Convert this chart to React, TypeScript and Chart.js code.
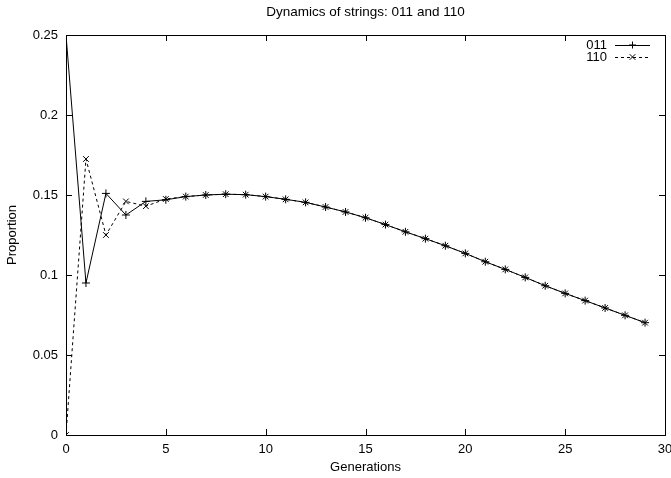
import React, { useEffect, useRef } from "react";
import { Chart, registerables } from "chart.js";

Chart.register(...registerables);

const generations = [0,1,2,3,4,5,6,7,8,9,10,11,12,13,14,15,16,17,18,19,20,21,22,23,24,25,26,27,28,29];
const s011 = [0.25,0.095,0.151,0.1375,0.146,0.147,0.149,0.15,0.1505,0.1502,0.149,0.1473,0.1454,0.1425,0.1394,0.1358,0.1315,0.127,0.1227,0.1183,0.1135,0.1083,0.1035,0.0985,0.0933,0.0885,0.084,0.0794,0.0748,0.0702];
const s110 = [0,0.1725,0.125,0.146,0.143,0.1475,0.149,0.15,0.1505,0.1502,0.149,0.1473,0.1454,0.1425,0.1394,0.1358,0.1315,0.127,0.1227,0.1183,0.1135,0.1083,0.1035,0.0985,0.0933,0.0885,0.084,0.0794,0.0748,0.0702];
const xTicks = [0,5,10,15,20,25,30];
const yTicks = [0,0.05,0.1,0.15,0.2,0.25];
const seriesNames = ["011","110"];
const titleText = "Dynamics of strings: 011 and 110";
const xLabel = "Generations";
const yLabel = "Proportion";

const FONT = "'Liberation Sans', Arial, Helvetica, sans-serif";

const gnuPlugin = {
  id: "gnu",
  afterDraw(chart: any) {
    const { ctx, chartArea: a, scales } = chart;
    const xs = scales.x, ys = scales.y;
    ctx.save();
    ctx.strokeStyle = "#000";
    ctx.lineWidth = 1;
    ctx.setLineDash([]);
    ctx.strokeRect(Math.round(a.left) + 0.5, Math.round(a.top) + 0.5, Math.round(a.right - a.left), Math.round(a.bottom - a.top));
    const tl = 6;
    ctx.beginPath();
    xTicks.forEach((v) => {
      const px = Math.round(xs.getPixelForValue(v)) + 0.5;
      ctx.moveTo(px, a.bottom); ctx.lineTo(px, a.bottom - tl);
      ctx.moveTo(px, a.top); ctx.lineTo(px, a.top + tl);
    });
    yTicks.forEach((v) => {
      const py = Math.round(ys.getPixelForValue(v)) + 0.5;
      ctx.moveTo(a.left, py); ctx.lineTo(a.left + tl, py);
      ctx.moveTo(a.right, py); ctx.lineTo(a.right - tl, py);
    });
    ctx.stroke();
    ctx.fillStyle = "#000";
    ctx.textAlign = "center";
    ctx.textBaseline = "middle";
    // x tick labels
    ctx.font = `13px ${FONT}`;
    xTicks.forEach((v) => {
      ctx.fillText(String(v), xs.getPixelForValue(v), a.bottom + 14);
    });
    ctx.font = `13.5px ${FONT}`;
    ctx.fillText(titleText, (a.left + a.right) / 2, 12);
    ctx.font = `13px ${FONT}`;
    ctx.fillText(xLabel, (a.left + a.right) / 2, 467);
    ctx.save();
    ctx.translate(12, (a.top + a.bottom) / 2);
    ctx.rotate(-Math.PI / 2);
    ctx.fillText(yLabel, 0, 0);
    ctx.restore();
    const rows = [45, 57];
    ctx.font = `13px ${FONT}`;
    ctx.textAlign = "right";
    chart.data.datasets.forEach((ds: any, i: number) => {
      const y = rows[i];
      ctx.fillText(seriesNames[i], 607, y);
      ctx.beginPath();
      ctx.setLineDash(i === 1 ? [3, 3] : []);
      ctx.moveTo(615, y + 0.5); ctx.lineTo(650, y + 0.5);
      ctx.stroke();
      ctx.setLineDash([]);
      const cx = 632.5, r = 3.5;
      ctx.beginPath();
      if (i === 0) {
        ctx.moveTo(cx, y - r); ctx.lineTo(cx, y + r);
        ctx.moveTo(cx - r, y); ctx.lineTo(cx + r, y);
      } else {
        ctx.moveTo(cx - r * 0.8, y - r * 0.8); ctx.lineTo(cx + r * 0.8, y + r * 0.8);
        ctx.moveTo(cx - r * 0.8, y + r * 0.8); ctx.lineTo(cx + r * 0.8, y - r * 0.8);
      }
      ctx.stroke();
    });
    ctx.restore();
  },
};

export default function App() {
  const ref = useRef<HTMLCanvasElement>(null);
  useEffect(() => {
    const chart = new Chart(ref.current!, {
      type: "line",
      data: {
        datasets: [
          {
            label: seriesNames[0],
            data: generations.map((g, i) => ({ x: g, y: s011[i] })),
            borderColor: "#000",
            borderWidth: 1,
            pointStyle: "cross",
            pointRadius: 4,
            pointBorderColor: "#000",
            pointBorderWidth: 1,
            pointBackgroundColor: "#000",
            tension: 0,
            fill: false,
          },
          {
            label: seriesNames[1],
            data: generations.map((g, i) => ({ x: g, y: s110[i] })),
            borderColor: "#000",
            borderWidth: 1,
            borderDash: [3, 3],
            pointStyle: "crossRot",
            pointRadius: 4,
            pointBorderColor: "#000",
            pointBorderWidth: 1,
            pointBackgroundColor: "#000",
            tension: 0,
            fill: false,
          },
        ],
      },
      options: {
        animation: false,
        responsive: false,
        maintainAspectRatio: false,
        layout: { padding: { top: 35, right: 6, left: 0, bottom: 0 } },
        plugins: { legend: { display: false }, title: { display: false }, tooltip: { enabled: false } },
        scales: {
          x: {
            type: "linear",
            min: 0,
            max: 30,
            afterBuildTicks: (s: any) => { s.ticks = xTicks.map((v) => ({ value: v })); },
            afterFit: (s: any) => { s.height = 43; },
            grid: { display: false, drawTicks: false },
            border: { display: false },
            ticks: { display: false },
          },
          y: {
            type: "linear",
            min: 0,
            max: 0.25,
            afterBuildTicks: (s: any) => { s.ticks = yTicks.map((v) => ({ value: v })); },
            afterFit: (s: any) => { s.width = 66; },
            grid: { display: false, drawTicks: false },
            border: { display: false },
            ticks: { color: "#000", font: { family: FONT, size: 13 }, padding: 8, autoSkip: false, callback: (v: any) => String(Number(Number(v).toFixed(2))) },
          },
        },
      },
      plugins: [gnuPlugin],
    });
    return () => chart.destroy();
  }, []);
  return (
    <div style={{ position: "fixed", left: 0, top: 0, width: 671, height: 478, background: "#fff" }}>
      <canvas ref={ref} width={671} height={478} style={{ width: 671, height: 478, display: "block" }} />
    </div>
  );
}
